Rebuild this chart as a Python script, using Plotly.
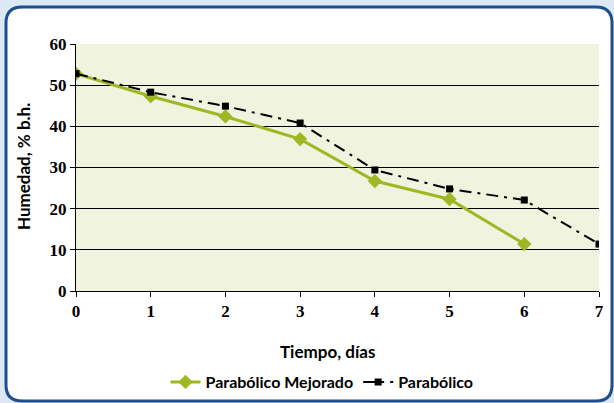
import plotly.graph_objects as go

dias_mejorado = [0, 1, 2, 3, 4, 5, 6]
humedad_mejorado = [52.8, 47.3, 42.4, 36.9, 26.7, 22.3, 11.4]
dias_parabolico = [0, 1, 2, 3, 4, 5, 6, 7]
humedad_parabolico = [52.8, 48.3, 44.9, 40.8, 29.4, 24.8, 22.1, 11.4]
x_ticks = [0, 1, 2, 3, 4, 5, 6, 7]
y_ticks = [0, 10, 20, 30, 40, 50, 60]

W, H = 614, 403
L, R, T, B = 76, 599, 44, 291

def px(x):
    return (x - L) / (R - L)

def py(y):
    return (B - y) / (B - T)

fig = go.Figure()
fig.add_trace(go.Scatter(
    x=dias_mejorado, y=humedad_mejorado, name="Parabólico Mejorado",
    mode="lines+markers",
    line=dict(color="#9db824", width=3),
    marker=dict(symbol="diamond", size=11, color="#9db824"),
))
fig.add_trace(go.Scatter(
    x=dias_parabolico, y=humedad_parabolico, name="Parabólico",
    mode="lines+markers",
    line=dict(color="black", width=2, dash="12px,6px,3px,6px"),
    marker=dict(symbol="square", size=7, color="black"),
))

# rounded panel
l, r, t, b, rad = 6, 612, 7, 401, 16
path = (f"M {px(l+rad)},{py(t)} L {px(r-rad)},{py(t)} Q {px(r)},{py(t)} {px(r)},{py(t+rad)} "
        f"L {px(r)},{py(b-rad)} Q {px(r)},{py(b)} {px(r-rad)},{py(b)} "
        f"L {px(l+rad)},{py(b)} Q {px(l)},{py(b)} {px(l)},{py(b-rad)} "
        f"L {px(l)},{py(t+rad)} Q {px(l)},{py(t)} {px(l+rad)},{py(t)} Z")
fig.add_shape(type="path", path=path, xref="paper", yref="paper",
              line=dict(color="#1d4f8e", width=3), fillcolor="white", layer="below")
fig.add_shape(type="rect", x0=0, x1=1, y0=0, y1=1, xref="paper", yref="paper",
              line=dict(width=0), fillcolor="#f0f3de", layer="below")

title_font = dict(family="Liberation Sans Narrow, Lato", size=17, color="black", weight="bold")
fig.add_annotation(text="Tiempo, días", xref="paper", yref="paper",
                   x=px(327), y=py(351), xanchor="center", yanchor="middle",
                   showarrow=False, font=title_font)
fig.add_annotation(text="Humedad, % b.h.", xref="paper", yref="paper",
                   x=px(23), y=py(167), xanchor="center", yanchor="middle", textangle=-90,
                   showarrow=False, font=title_font)

tickfont = dict(family="Liberation Serif", size=17, color="black", weight="bold")
fig.update_layout(
    width=W, height=H,
    margin=dict(l=L, r=W - R, t=T, b=H - B, autoexpand=False),
    paper_bgcolor="#dce9f5",
    plot_bgcolor="#f0f3de",
    showlegend=True,
    legend=dict(orientation="h", x=px(322), xanchor="center", y=py(382), yanchor="middle",
                font=dict(family="Liberation Sans Narrow, Lato", size=16, color="black", weight="bold"),
                bgcolor="rgba(0,0,0,0)", tracegroupgap=0),
    xaxis=dict(range=[0, 7], tickvals=x_ticks, showgrid=False, zeroline=False, automargin=False,
               showline=True, linecolor="black", linewidth=1,
               ticks="outside", ticklen=5, tickcolor="black", tickfont=tickfont),
    yaxis=dict(range=[0, 60], tickvals=y_ticks, showgrid=True, gridcolor="black", gridwidth=1,
               zeroline=False, showline=True, linecolor="black", linewidth=1, automargin=False,
               ticks="outside", ticklen=5, tickcolor="black", tickfont=tickfont),
)
fig.write_html("out.html", config={"displayModeBar": False},
               post_script="document.body.style.margin='0';document.body.style.overflow='hidden';")
